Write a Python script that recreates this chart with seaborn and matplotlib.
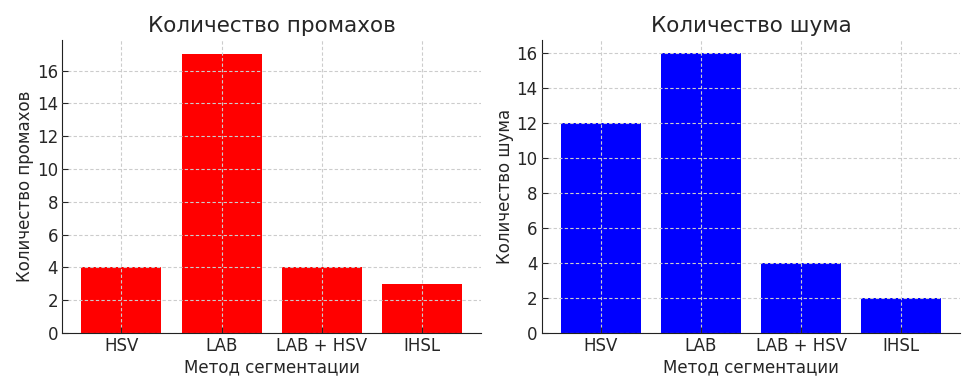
import matplotlib
matplotlib.use("Agg")
import matplotlib.pyplot as plt
import seaborn as sns
import pandas as pd

# Данные
methods = ["HSV", "LAB", "LAB + HSV", "IHSL"]
misses = [4, 17, 4, 3]
noise = [12, 16, 4, 2]

df = pd.DataFrame({"method": methods, "misses": misses, "noise": noise})

sns.set_style("white")
plt.rcParams['font.family'] = ['DejaVu Sans']

fig, axes = plt.subplots(1, 2, figsize=(9.74, 3.9), dpi=100)

panels = [
    ("misses", "red", "Количество промахов", "Количество промахов"),
    ("noise", "blue", "Количество шума", "Количество шума"),
]

for ax, (col, color, title, ylabel) in zip(axes, panels):
    sns.barplot(data=df, x="method", y=col, color=color, saturation=1,
                width=0.8, linewidth=0, ax=ax)
    ax.set_title(title, fontsize=15.5, color="#262626")
    ax.set_xlabel("Метод сегментации", fontsize=12, color="#262626", labelpad=2)
    ax.set_ylabel(ylabel, fontsize=12, color="#262626", labelpad=2)
    ax.set_axisbelow(False)
    ax.grid(True, linestyle=(0, (3, 2)), color="#cccccc", linewidth=0.8)
    ax.tick_params(axis="both", labelsize=12, colors="#262626", length=4,
                   direction="in", pad=3, left=True, bottom=True)
    ax.spines["top"].set_visible(False)
    ax.spines["right"].set_visible(False)
    ax.spines["left"].set_color("#222222")
    ax.spines["bottom"].set_color("#222222")
    ax.set_xlim(-0.59, 3.59)

axes[0].set_yticks(range(0, 17, 2))
axes[1].set_yticks(range(0, 17, 2))
axes[0].set_ylim(0, 17.85)
axes[1].set_ylim(0, 16.75)

fig.subplots_adjust(left=0.064, right=0.986, top=0.897, bottom=0.146, wspace=0.145)
fig.savefig("out.png", dpi=100)
